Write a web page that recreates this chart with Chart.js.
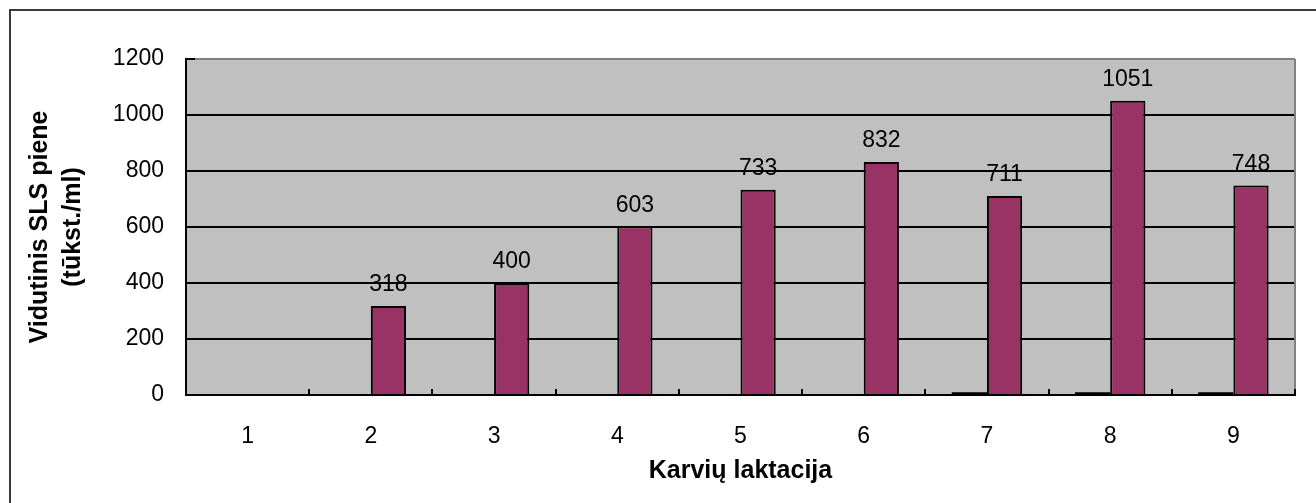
<!DOCTYPE html>
<html>
<head>
<meta charset="utf-8">
<script src="https://cdn.jsdelivr.net/npm/chart.js@4.4.0/dist/chart.umd.min.js"></script>
<style>
  html, body { margin: 0; padding: 0; background: #fff; overflow: hidden; }
  #wrap { position: relative; width: 1316px; height: 503px; }
  #frame { position: absolute; left: 9px; top: 9px; width: 2000px; height: 2000px;
           border: 2px solid #3a3a3a; box-sizing: border-box; }
  #chart { position: absolute; left: 0; top: 0; }
</style>
</head>
<body>
<div id="wrap">
  <div id="frame"></div>
  <canvas id="chart" width="1316" height="503"></canvas>
</div>
<script>
'use strict';
// ---------- dane ----------
const laktacijos = ['1', '2', '3', '4', '5', '6', '7', '8', '9'];
const serija1 = [null, null, null, null, null, null, 10, 10, 10];       // beveik nulinės
const slsVidurkis = [null, 318, 400, 603, 733, 832, 711, 1051, 748];
const yTicks = [0, 200, 400, 600, 800, 1000, 1200];

const FONT = '"Liberation Sans", Arial, sans-serif';
Chart.defaults.font.family = FONT;
Chart.defaults.color = '#000';

// ---------- pluginai ----------
const plotBg = {
  id: 'plotBg',
  beforeDraw(chart) {
    const { ctx, chartArea: a } = chart;
    ctx.save();
    ctx.fillStyle = '#c0c0c0';
    ctx.fillRect(a.left, a.top, a.right - a.left, a.bottom - a.top);
    ctx.restore();
  },
  afterDraw(chart) {
    const { ctx, chartArea: a, scales } = chart;
    ctx.save();
    // dešinysis rėmas
    ctx.strokeStyle = '#808080';
    ctx.lineWidth = 2;
    ctx.beginPath();
    ctx.moveTo(a.right, a.top);
    ctx.lineTo(a.right, a.bottom);
    ctx.stroke();
    // vidinės žymės ant ašių
    ctx.strokeStyle = '#000';
    ctx.beginPath();
    const x = scales.x, n = laktacijos.length;
    const step = x.getPixelForValue(1) - x.getPixelForValue(0);
    for (let i = 1; i <= n; i++) {
      const px = Math.round(x.getPixelForValue(i - 1) + step / 2);
      ctx.moveTo(px, a.bottom);
      ctx.lineTo(px, a.bottom - 6);
    }
    yTicks.forEach(v => {
      const py = Math.round(scales.y.getPixelForValue(v));
      ctx.moveTo(a.left, py);
      ctx.lineTo(a.left + 9, py);
    });
    ctx.stroke();
    ctx.restore();
  },
};

const valueLabels = {
  id: 'valueLabels',
  afterDatasetsDraw(chart) {
    const { ctx } = chart;
    const meta = chart.getDatasetMeta(1);
    ctx.save();
    ctx.font = `23px ${FONT}`;
    ctx.fillStyle = '#000';
    ctx.textAlign = 'center';
    ctx.textBaseline = 'middle';
    meta.data.forEach((el, i) => {
      const v = slsVidurkis[i];
      if (v === null) return;
      ctx.fillText(String(v), el.x, el.y - 21);
    });
    ctx.restore();
  },
};

// ---------- grafikas ----------
new Chart(document.getElementById('chart'), {
  type: 'bar',
  data: {
    labels: laktacijos,
    datasets: [
      { label: 'S1', data: serija1, backgroundColor: '#000', borderColor: '#000',
        borderWidth: 0 },
      { label: 'SLS', data: slsVidurkis, backgroundColor: '#993366', borderColor: '#000',
        borderWidth: 2 },
    ],
  },
  options: {
    responsive: false, animation: false,
    categoryPercentage: 2 / 3.5, barPercentage: 1,
    layout: { padding: { left: 0, top: 59, right: 21, bottom: 0 } },
    plugins: { legend: { display: false }, tooltip: { enabled: false } },
    scales: {
      x: {
        afterFit: s => { s.height = 108; },
        grid: { display: false },
        border: { display: true, color: '#000', width: 2 },
        ticks: { font: { size: 23 }, color: '#000', padding: 20 },
        title: { display: true, text: 'Karvių laktacija', color: '#000',
          font: { size: 25, weight: 'bold' }, padding: { top: 0, bottom: 17 } },
      },
      y: {
        min: 0, max: 1200,
        afterFit: s => { s.width = 186; },
        afterBuildTicks: s => { s.ticks = yTicks.map(v => ({ value: v })); },
        grid: { color: c => (c.tick && c.tick.value === 1200 ? '#808080' : '#000'),
          lineWidth: 2, drawTicks: false },
        border: { display: true, color: '#000', width: 2 },
        ticks: { font: { size: 23 }, color: '#000', padding: 22, callback: v => String(v) },
        title: { display: true, text: ['Vidutinis SLS piene', '(tūkst./ml)'], color: '#000',
          font: { size: 25, weight: 'bold', lineHeight: 1.3 }, padding: { top: 24, bottom: 0 } },
      },
    },
  },
  plugins: [plotBg, valueLabels],
});
</script>
</body>
</html>
